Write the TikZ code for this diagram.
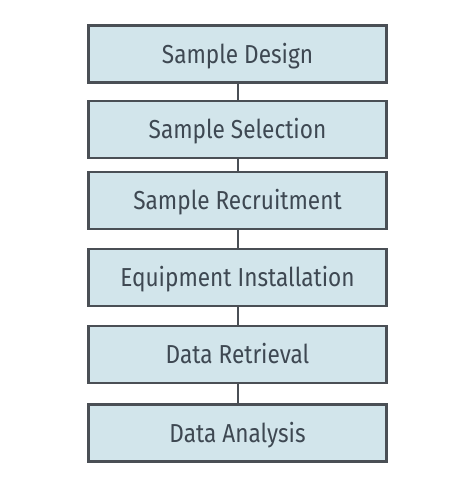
\documentclass[tikz,border=0pt]{standalone}
\usepackage{fontspec}
\setmainfont[FakeStretch=0.87]{Fira Sans}
\definecolor{boxfill}{HTML}{D2E5EB}
\definecolor{boxline}{HTML}{4A4F55}
\definecolor{txt}{HTML}{3E4852}
\begin{document}
\begin{tikzpicture}[x=1pt,y=-1pt,
  stepbox/.style={draw=boxline,fill=boxfill,line width=2.2pt,minimum width=298pt,minimum height=57pt,inner sep=0pt,text height=22pt,text depth=3.4pt,text=txt,font=\fontsize{26}{30}\selectfont,anchor=center},
  link/.style={draw=boxline,line width=2pt}]
\useasboundingbox (0,0) rectangle (457,503);
\fill[white] (0,0) rectangle (457,503);
\node[stepbox] (a) at (237.5,54) {Sample Design};
\node[stepbox] (b) at (237.5,129.5) {Sample Selection};
\node[stepbox] (c) at (237.5,200.5) {Sample Recruitment};
\node[stepbox] (d) at (237.5,277.5) {Equipment Installation};
\node[stepbox] (e) at (237.5,354.5) {Data Retrieval};
\node[stepbox] (f) at (237.5,433) {Data Analysis};
\draw[link] (a) -- (b);
\draw[link] (b) -- (c);
\draw[link] (c) -- (d);
\draw[link] (d) -- (e);
\draw[link] (e) -- (f);
\end{tikzpicture}
\end{document}
